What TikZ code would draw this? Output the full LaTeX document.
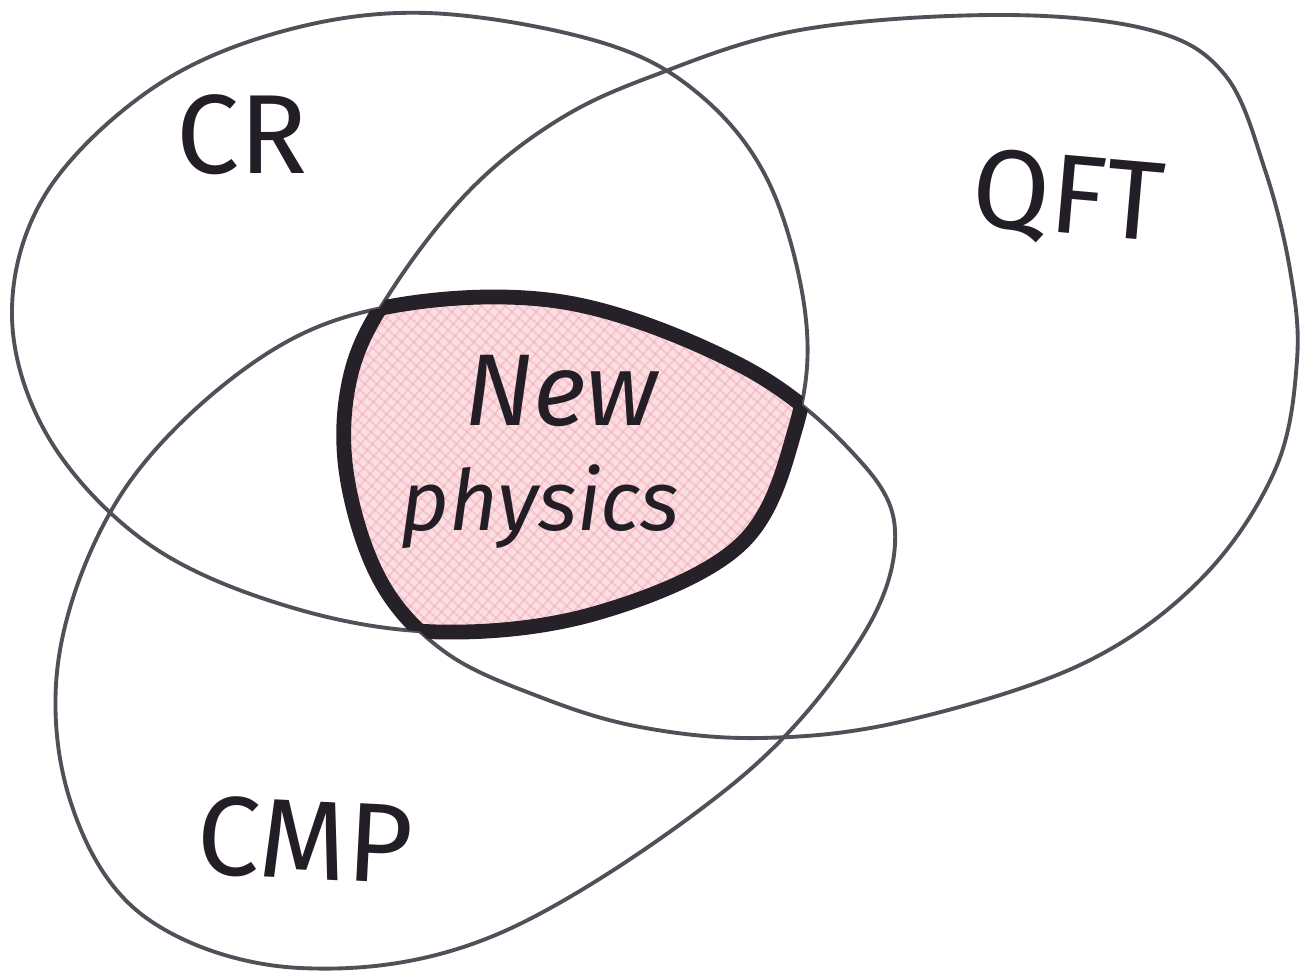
\documentclass[tikz,border=0pt]{standalone}
\usepackage{fontspec}
\setmainfont{Fira Sans}
\definecolor{penthin}{RGB}{80,80,88}
\definecolor{penthick}{RGB}{38,32,40}
\definecolor{pinkfill}{RGB}{251,222,226}
\definecolor{pinkhatch}{RGB}{240,150,165}
\definecolor{ink}{RGB}{35,30,38}
\tikzset{
  crpath/.style={insert path={plot[smooth cycle, tension=0.6] coordinates {(427,13) (600,42) (700,95) (770,185) (806,320) (795,430) (740,545) (597,613) (440,632) (290,607) (150,545) (50,440) (12,317) (45,195) (150,90) (280,32)}}},
  qftpath/.style={insert path={plot[smooth cycle, tension=0.6] coordinates {(650,77) (800,30) (1000,15) (1150,30) (1225,75) (1265,170) (1290,270) (1297,360) (1275,470) (1200,580) (1080,665) (900,722) (760,738) (640,727) (540,697) (445,652) (380,580) (346,470) (352,370) (395,285) (470,190) (555,122)}}},
  cmppath/.style={insert path={plot[smooth cycle, tension=0.6] coordinates {(382,308) (563,302) (740,365) (850,450) (895,530) (860,640) (733,784) (498,934) (300,968) (145,917) (70,800) (60,650) (124,490) (250,365)}}},
  thinline/.style={draw=penthin, line width=1.1pt},
  thickline/.style={draw=penthick, line width=4.2pt},
  hatch/.style={draw=pinkhatch, line width=0.5pt, opacity=0.35},
  label/.style={text=ink, font=\fontsize{32}{32}\selectfont},
}
\begin{document}
\begin{tikzpicture}[x=0.01cm, y=-0.01cm]
\useasboundingbox (0,0) rectangle (1300,974);
\fill[white] (0,0) rectangle (1300,974);
% pink intersection
\begin{scope}
  \clip[crpath];
  \clip[cmppath];
  \fill[pinkfill, qftpath];
  \clip[qftpath];
  \foreach \i in {0,12,...,800} {
    \draw[hatch] (300+\i,280) -- (\i-50,680);
    \draw[hatch] (\i-100,280) -- (350+\i,680);
  }
\end{scope}
% thin outlines
\path[thinline, crpath];
\path[thinline, qftpath];
\path[thinline, cmppath];
% thick boundary of the intersection
\begin{scope}
  \clip[qftpath]; \clip[cmppath];
  \path[thickline, crpath];
\end{scope}
\begin{scope}
  \clip[crpath]; \clip[cmppath];
  \path[thickline, qftpath];
\end{scope}
\begin{scope}
  \clip[crpath]; \clip[qftpath];
  \path[thickline, cmppath];
\end{scope}
% labels
\node[label] (cr) at (242,135) {CR};
\node[label, rotate=-5] (qft) at (1068,200) {QFT};
\node[label, rotate=-3] (cmp) at (305,840) {CMP};
\node[label, font=\itshape, align=center, inner sep=0pt] (np) at (540,452)
  {\hspace*{1.2em}{\fontsize{29}{30}\selectfont New}\\[10pt]{\fontsize{24}{28}\selectfont physics}};
\end{tikzpicture}
\end{document}
